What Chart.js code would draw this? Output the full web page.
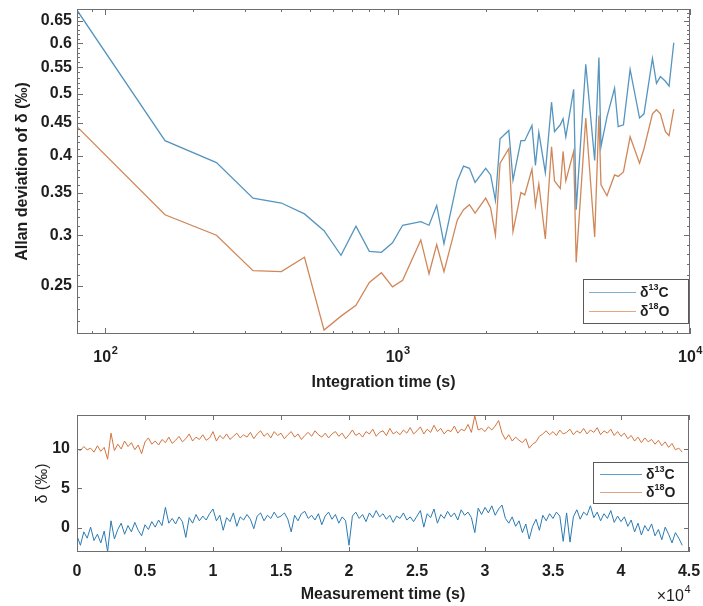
<!DOCTYPE html>
<html>
<head>
<meta charset="utf-8">
<script src="https://cdn.jsdelivr.net/npm/chart.js@4.4.1/dist/chart.umd.min.js"></script>
<style>
  html, body { margin: 0; padding: 0; background: #fff; }
  #wrap { position: relative; width: 703px; height: 606px; }
  #allanChart { position: absolute; left: 0; top: 0; }
  #seriesChart { position: absolute; left: 0; top: 400px; }
</style>
</head>
<body>
<div id="wrap">
  <canvas id="allanChart" width="703" height="400"></canvas>
  <canvas id="seriesChart" width="703" height="206"></canvas>
</div>
<script>
// Allan deviation (top panel)
const tauSeconds = [80, 160, 240, 320, 400, 480, 560, 640, 720, 800, 880, 960, 1040, 1200, 1280, 1360, 1440,
  1600, 1680, 1760, 1840, 2000, 2080, 2160, 2240, 2400, 2480, 2640, 2720, 2880, 2960, 3040, 3200, 3360, 3440,
  3600, 3680, 3760, 4000, 4080, 4400, 4720, 4880, 4960, 5200, 5520, 5680, 5920, 6240, 6720, 6960, 7440, 7680,
  7920, 8240, 8480, 8800];
const adevC13 = [0.676, 0.422, 0.390, 0.343, 0.337, 0.324, 0.305, 0.279, 0.310, 0.283, 0.282, 0.292, 0.311,
  0.315, 0.311, 0.334, 0.291, 0.365, 0.385, 0.382, 0.363, 0.382, 0.373, 0.340, 0.425, 0.438, 0.366, 0.422,
  0.422, 0.446, 0.386, 0.435, 0.376, 0.485, 0.436, 0.447, 0.457, 0.428, 0.508, 0.329, 0.556, 0.393, 0.570,
  0.413, 0.460, 0.510, 0.444, 0.447, 0.546, 0.458, 0.465, 0.568, 0.519, 0.532, 0.523, 0.514, 0.601];
const adevO18 = [0.444, 0.323, 0.300, 0.264, 0.263, 0.277, 0.213, 0.224, 0.233, 0.253, 0.262, 0.249, 0.255,
  0.295, 0.261, 0.290, 0.263, 0.317, 0.329, 0.335, 0.325, 0.343, 0.331, 0.300, 0.389, 0.410, 0.304, 0.350,
  0.347, 0.381, 0.334, 0.361, 0.296, 0.413, 0.365, 0.355, 0.406, 0.365, 0.406, 0.272, 0.458, 0.298, 0.462,
  0.360, 0.346, 0.373, 0.371, 0.377, 0.428, 0.389, 0.410, 0.465, 0.472, 0.465, 0.436, 0.430, 0.473];
const allanTickLabels = [0.25, 0.3, 0.35, 0.4, 0.45, 0.5, 0.55, 0.6, 0.65];
const tauTickExponents = { 100: "2", 1000: "3", 10000: "4" };

// Raw delta values (bottom panel), one value every 250 s
const sampleStep = 250;
const deltaO18 = [
  10.0, 9.8, 10.3, 9.9, 10.1, 9.6, 10.4, 9.7, 10.2, 8.7,
  12.0, 9.8, 10.6, 10.0, 11.0, 10.3, 10.8, 9.9, 10.5, 9.4,
  10.9, 11.4, 10.6, 11.0, 10.5, 11.2, 10.8, 11.5, 10.7, 11.1,
  11.6, 10.9, 11.3, 11.9, 11.0, 11.5, 11.2, 11.8, 11.1, 11.4,
  12.2, 11.0, 11.7, 11.3, 11.9, 11.2, 11.6, 12.0, 11.4, 11.8,
  11.5, 12.1, 11.3, 11.9, 12.3, 11.6, 12.0, 11.4, 12.2, 11.7,
  12.0, 11.3, 11.8, 12.2, 11.5, 11.9, 11.2, 11.7, 12.1, 11.6,
  12.3, 11.8, 11.5, 12.0, 11.4, 11.9, 12.2, 11.6, 12.0, 11.3,
  11.8, 12.4, 11.7, 12.0, 11.5, 12.2, 11.9, 12.5, 11.6, 12.1,
  12.3, 11.7, 12.6, 11.9, 12.2, 11.8, 12.4, 12.0, 12.7, 11.9,
  12.3, 12.8, 11.9, 12.5, 12.1, 13.0, 12.2, 12.6, 11.9, 12.4,
  12.2, 12.9, 12.0, 12.5, 12.3, 13.1, 12.1, 14.2, 12.4, 12.6,
  12.2, 12.8, 12.4, 12.9, 13.6, 12.0, 11.2, 11.8, 11.0, 11.5,
  11.1, 10.8, 11.3, 10.1, 10.6, 10.9, 11.6, 11.9, 12.3, 11.8,
  12.2, 11.7, 12.4, 11.9, 12.1, 12.5, 11.8, 12.3, 12.0, 12.6,
  11.9, 12.4, 12.1, 12.7, 11.8, 12.3, 12.0, 12.5, 11.7, 12.2,
  11.6, 12.0, 11.3, 11.7, 11.0, 11.5, 10.8, 11.4, 10.9, 11.2,
  10.6, 11.1, 10.4, 10.9, 10.2, 10.7, 9.9, 10.1, 9.6
];
const deltaC13 = [
  -1.0, -2.2, -0.5, -1.3, 0.1, -1.6, -0.8, -1.9, -0.4, -3.0,
  0.9, -1.4, -0.2, 0.6, -0.8, 0.3, -0.5, 0.7, -0.3, -1.0,
  0.4, -0.2, 0.8, 0.1, 1.0, 0.3, 2.6, 0.6, 1.2, 0.5,
  1.4, 0.8, -1.2, 1.3, 0.6, 1.7, 0.9, 1.5, 1.0, 1.8,
  2.4, 0.9, 1.6, -0.3, 1.3, 0.8, 1.9, 0.2, 1.4, 1.0,
  1.7, 1.1, -0.1, 1.5, 1.9, 0.9, 1.6, 1.2, 2.0, 1.3,
  1.5, 1.9, 1.1, -0.5, 1.6, 0.9, 1.8, 2.1, 1.2, 1.6,
  1.0, 1.8, 0.4, 1.5, 2.0, 1.1, 1.7, 0.6, 1.4, 0.9,
  -2.2, 1.5, 2.0, 1.2, 1.7, 0.8, 1.9, 1.3, 2.2, 1.4,
  1.8, 1.1, 1.6, 0.7, 1.5, 1.2, 1.9, 1.0, 1.4, 0.8,
  1.5, 2.2, 0.1, 1.8, 1.3, 2.4, 0.6, 1.7, 1.2, 2.1,
  1.4, 1.9, 1.0, 2.3, 1.6, 2.0, 1.3, -0.6, 2.5, 1.7,
  2.6, 1.9, 2.8, 1.6, 2.4, 2.9, 1.2, 0.6, 1.4, 0.2,
  0.9, -0.6, 0.5, -1.4, 0.2, 1.1, -0.3, 1.6, 0.9, 1.8,
  1.2, 2.0, 1.5, -1.7, 1.9, -1.8, 1.4, 2.3, 1.1, 2.0,
  1.6, 2.8, 1.3, 2.0, 0.9, 1.8, 1.2, 2.2, 0.7, 1.5,
  0.8, 1.4, 0.2, 1.0, -0.5, 0.6, -0.9, 0.3, -0.4, 0.5,
  -1.0, -0.2, -1.5, 0.1, -0.8, -1.9, -0.6, -1.3, -2.2
];
const timeTickLabels = [0, 5000, 10000, 15000, 20000, 25000, 30000, 35000, 40000, 45000];
const deltaTickLabels = [0, 5, 10];

const textColor = "#1e1e1e";
const axisColor = "#6e6e6e";
const fontFamily = "'Liberation Sans', Arial, sans-serif";
const boldFont = { family: fontFamily, size: 16, weight: "bold" };

// base with raised exponent, e.g. 10^3; align is "center" or "right"
function drawPower(ctx, x, y, base, exp, weight, align) {
  ctx.font = `${weight} 16px ${fontFamily}`;
  const wb = ctx.measureText(base).width;
  ctx.font = `${weight} 11px ${fontFamily}`;
  const we = ctx.measureText(exp).width;
  let x0 = align === "right" ? x - wb - we : x - (wb + we) / 2;
  ctx.textAlign = "left";
  ctx.textBaseline = "alphabetic";
  ctx.font = `${weight} 16px ${fontFamily}`;
  ctx.fillText(base, x0, y);
  ctx.font = `${weight} 11px ${fontFamily}`;
  ctx.fillText(exp, x0 + wb + 0.5, y - 8);
}

// box + inward tick marks on all four sides, like MATLAB
const matlabAxes = {
  id: "matlabAxes",
  afterDatasetsDraw(chart, args, opts) {
    const { ctx, chartArea: a, scales } = chart;
    ctx.save();
    ctx.strokeStyle = axisColor;
    ctx.lineWidth = 1;
    ctx.strokeRect(a.left + 0.5, a.top + 0.5, a.right - a.left - 1, a.bottom - a.top - 1);
    ctx.beginPath();
    for (const [v, len] of opts.xTicks) {
      const px = Math.round(scales.x.getPixelForValue(v)) + 0.5;
      ctx.moveTo(px, a.bottom); ctx.lineTo(px, a.bottom - len);
      ctx.moveTo(px, a.top); ctx.lineTo(px, a.top + len);
    }
    for (const [v, len] of opts.yTicks) {
      const py = Math.round(scales.y.getPixelForValue(v)) + 0.5;
      ctx.moveTo(a.left, py); ctx.lineTo(a.left + len, py);
      ctx.moveTo(a.right, py); ctx.lineTo(a.right - len, py);
    }
    ctx.stroke();
    ctx.fillStyle = textColor;
    if (opts.powerLabels) {
      for (const [v, exp] of Object.entries(opts.powerLabels)) {
        drawPower(ctx, scales.x.getPixelForValue(+v), a.bottom + 28, "10", exp, "bold", "center");
      }
    }
    if (opts.exponent) {
      drawPower(ctx, opts.exponent[0], opts.exponent[1], "×10", "4", "normal", "right");
    }
    ctx.restore();
  }
};

function drawIsotope(ctx, x, y, mass, element) {
  ctx.font = `bold 14px ${fontFamily}`;
  ctx.fillText("δ", x, y);
  x += ctx.measureText("δ").width;
  ctx.font = `bold 9px ${fontFamily}`;
  ctx.fillText(mass, x, y - 5);
  x += ctx.measureText(mass).width;
  ctx.font = `bold 14px ${fontFamily}`;
  ctx.fillText(element, x, y);
}

const boxLegend = {
  id: "boxLegend",
  afterDraw(chart, args, opts) {
    const { ctx } = chart;
    const [x1, y1, x2, y2] = opts.box;
    ctx.save();
    ctx.fillStyle = "#fff";
    ctx.fillRect(x1, y1, x2 - x1, y2 - y1);
    ctx.strokeStyle = "#5a5a5a";
    ctx.lineWidth = 1;
    ctx.strokeRect(x1 + 0.5, y1 + 0.5, x2 - x1, y2 - y1);
    chart.data.datasets.forEach((ds, i) => {
      const y = opts.rows[i];
      ctx.strokeStyle = opts.colors[i];
      ctx.lineWidth = 1.2;
      ctx.beginPath();
      ctx.moveTo(opts.line[0], y + 0.5);
      ctx.lineTo(opts.line[1], y + 0.5);
      ctx.stroke();
      ctx.fillStyle = textColor;
      ctx.textBaseline = "middle";
      ctx.textAlign = "left";
      drawIsotope(ctx, opts.textX, y + 1, ds.isoMass, ds.isoElement);
    });
    ctx.restore();
  }
};

// keep chart area fixed: no extra room for overhanging labels
function noOverhang(s) {
  s.paddingLeft = 0;
  s.paddingRight = 0;
  s.paddingTop = 0;
  s.paddingBottom = 0;
}

function logTicks(min, max) {
  const out = [];
  for (let d = 10; d <= max; d *= 10) {
    for (let k = 1; k <= 9; k++) {
      const v = k * d;
      if (v >= min && v <= max) out.push([v, k === 1 ? 6 : 3]);
    }
  }
  return out;
}

const allanYTicks = [];
for (let k = 22; k <= 67; k++) {
  allanYTicks.push([k / 100, k % 5 === 0 ? 6 : 3]);
}

new Chart(document.getElementById("allanChart"), {
  type: "line",
  data: {
    datasets: [
      {
        label: "δ13C", isoMass: "13", isoElement: "C",
        data: tauSeconds.map((t, i) => ({ x: t, y: adevC13[i] })),
        borderColor: "#5595bf", borderWidth: 1.3, pointRadius: 0, tension: 0
      },
      {
        label: "δ18O", isoMass: "18", isoElement: "O",
        data: tauSeconds.map((t, i) => ({ x: t, y: adevO18[i] })),
        borderColor: "#d08759", borderWidth: 1.3, pointRadius: 0, tension: 0
      }
    ]
  },
  options: {
    responsive: false,
    animation: false,
    layout: { padding: { top: 9, right: 13, left: 0, bottom: 0 } },
    plugins: {
      legend: { display: false },
      tooltip: { enabled: false },
      matlabAxes: { xTicks: logTicks(80, 10000), yTicks: allanYTicks, powerLabels: tauTickExponents },
      boxLegend: {
        box: [583, 279, 688, 323], rows: [292, 311], line: [589, 636], textX: 640,
        colors: ["#7fb0d2", "#e0a882"]
      }
    },
    scales: {
      x: {
        type: "logarithmic",
        min: 80,
        max: 10000,
        grid: { display: false, drawTicks: false },
        border: { display: false },
        afterBuildTicks: (s) => { s.ticks = Object.keys(tauTickExponents).map((v) => ({ value: +v })); },
        afterFit: (s) => { s.height = 66; noOverhang(s); },
        // labels with raised exponents are painted by matlabAxes
        ticks: { display: false },
        title: {
          display: true, text: "Integration time (s)", color: textColor,
          font: boldFont, padding: { top: 0, bottom: 8 }
        }
      },
      y: {
        type: "logarithmic",
        min: 0.213,
        max: 0.679,
        grid: { display: false, drawTicks: false },
        border: { display: false },
        afterBuildTicks: (s) => { s.ticks = allanTickLabels.map((v) => ({ value: v })); },
        afterFit: (s) => { s.width = 77; noOverhang(s); },
        ticks: {
          callback: (v) => String(v),
          font: boldFont, color: textColor, padding: 5, autoSkip: false
        },
        title: {
          display: true, text: "Allan deviation of δ (‰)", color: textColor,
          font: boldFont, padding: { top: 13, bottom: 0 }
        }
      }
    }
  },
  plugins: [matlabAxes, boxLegend]
});

new Chart(document.getElementById("seriesChart"), {
  type: "line",
  data: {
    datasets: [
      {
        label: "δ13C", isoMass: "13", isoElement: "C",
        data: deltaC13.map((v, i) => ({ x: i * sampleStep, y: v })),
        borderColor: "#2a7ab3", borderWidth: 1, pointRadius: 0, tension: 0
      },
      {
        label: "δ18O", isoMass: "18", isoElement: "O",
        data: deltaO18.map((v, i) => ({ x: i * sampleStep, y: v })),
        borderColor: "#d3743f", borderWidth: 1, pointRadius: 0, tension: 0
      }
    ]
  },
  options: {
    responsive: false,
    animation: false,
    layout: { padding: { top: 15, right: 14, left: 0, bottom: 0 } },
    plugins: {
      legend: { display: false },
      tooltip: { enabled: false },
      matlabAxes: {
        xTicks: timeTickLabels.map((v) => [v, 5]),
        yTicks: deltaTickLabels.map((v) => [v, 5]),
        exponent: [690, 201]
      },
      boxLegend: {
        box: [593, 62, 688, 103], rows: [74, 92], line: [600, 642], textX: 646,
        colors: ["#5d9dc8", "#e0a37d"]
      }
    },
    scales: {
      x: {
        type: "linear",
        min: 0,
        max: 45000,
        grid: { display: false, drawTicks: false },
        border: { display: false },
        afterBuildTicks: (s) => { s.ticks = timeTickLabels.map((v) => ({ value: v })); },
        afterFit: (s) => { s.height = 54; noOverhang(s); },
        ticks: {
          callback: (v) => String(v / 10000),
          font: boldFont, color: textColor, padding: 10, maxRotation: 0, autoSkip: false
        },
        title: {
          display: true, text: "Measurement time (s)", color: textColor,
          font: boldFont, padding: { top: 0, bottom: 2 }
        }
      },
      y: {
        type: "linear",
        min: -3.05,
        max: 14.3,
        grid: { display: false, drawTicks: false },
        border: { display: false },
        afterBuildTicks: (s) => { s.ticks = deltaTickLabels.map((v) => ({ value: v })); },
        afterFit: (s) => { s.width = 77; noOverhang(s); },
        ticks: {
          callback: (v) => String(v),
          font: boldFont, color: textColor, padding: 7, autoSkip: false
        },
        title: {
          display: true, text: "δ (‰)", color: textColor,
          font: { family: fontFamily, size: 16 },
          padding: { top: 33, bottom: 0 }
        }
      }
    }
  },
  plugins: [matlabAxes, boxLegend]
});
</script>
</body>
</html>
